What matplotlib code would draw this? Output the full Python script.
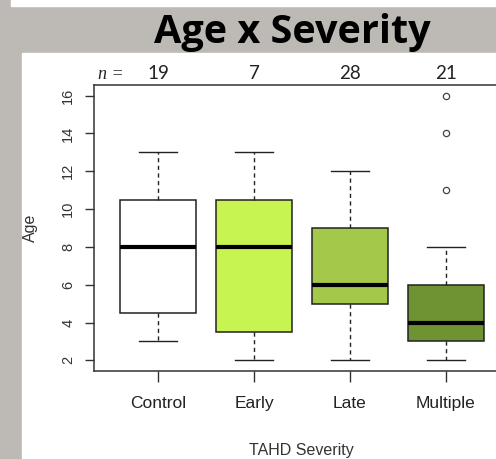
#!/usr/bin/env python3
# Age x Severity boxplot, slide-style
import matplotlib
matplotlib.use("Agg")
import matplotlib.pyplot as plt
from matplotlib.patches import Rectangle

# data
groups = ["Control", "Early", "Late", "Multiple"]
counts = [19, 7, 28, 21]
whis_lo = [3, 2, 2, 2]
q1 = [4.5, 3.5, 5, 3]
medians = [8, 8, 6, 4]
q3 = [10.5, 10.5, 9, 6]
whis_hi = [13, 13, 12, 8]
outliers = [[], [], [], [11, 14, 16]]
box_colors = ["#ffffff", "#c8f451", "#a3c84a", "#6f9333"]

SANS = ["Liberation Sans", "DejaVu Sans"]

W, H = 496, 459
fig = plt.figure(figsize=(W / 100, H / 100), dpi=100)
fig.patch.set_facecolor("#bdbab6")

# white panel + top strip
fig.add_artist(Rectangle((22 / W, 0), 474 / W, (H - 53) / H,
                         transform=fig.transFigure, color="white", zorder=0))
fig.add_artist(Rectangle((11 / W, 1 - 6 / H), 485 / W, 6 / H,
                         transform=fig.transFigure, color="white", zorder=0))

fig.text(292 / W, 1 - 43 / H, "Age x Severity", family=["Open Sans", "Lato"],
         fontweight="bold", fontsize=28.5, ha="center", va="baseline")

ax = fig.add_axes([94 / W, 88 / H, 416 / W, 286 / H])
ax.set_facecolor("none")

stats = []
for i, g in enumerate(groups):
    stats.append(dict(label=g, med=medians[i], q1=q1[i], q3=q3[i],
                      whislo=whis_lo[i], whishi=whis_hi[i], fliers=outliers[i]))

bp = ax.bxp(stats, positions=range(1, len(groups) + 1), widths=0.8,
            patch_artist=True, showfliers=True,
            boxprops=dict(edgecolor="#222222", linewidth=1.1),
            whiskerprops=dict(color="#222222", linestyle=(0, (3, 2.5)), linewidth=1),
            capprops=dict(color="#222222", linewidth=1),
            medianprops=dict(color="black", linewidth=3, solid_capstyle="butt"),
            flierprops=dict(marker="o", markerfacecolor="none",
                            markeredgecolor="#444444", markersize=4.5, markeredgewidth=0.9))
for patch, c in zip(bp["boxes"], box_colors):
    patch.set_facecolor(c)
for cap in bp["caps"]:
    x = cap.get_xdata()
    mid = (x[0] + x[1]) / 2
    cap.set_xdata([mid - 0.2, mid + 0.2])

ax.set_xlim(0.333, 4.667)
ax.set_ylim(1.44, 16.56)

for s in ["left", "top", "bottom", "right"]:
    ax.spines[s].set_color("#333333")
    ax.spines[s].set_linewidth(1.1)

ax.set_yticks(range(2, 17, 2))
ax.set_yticklabels([str(v) for v in range(2, 17, 2)], rotation=90, va="center",
                   family=SANS, fontsize=10.5, color="#333333")
ax.tick_params(axis="y", length=6.5, width=1, color="#333333", pad=7)
ax.set_xticks(range(1, len(groups) + 1))
ax.set_xticklabels(groups, family=SANS, fontsize=12.5, color="#222222")
ax.tick_params(axis="x", length=8, width=1, color="#333333", pad=10)

# n = counts above the box
trans = ax.get_xaxis_transform()
ax.text(0.64, 1.021, "n =", transform=trans, ha="right", va="baseline",
        family=["Liberation Serif"], style="italic", fontsize=13, color="#222222")
for i, n in enumerate(counts):
    ax.text(i + 1, 1.021, str(n), transform=trans, ha="center", va="baseline",
            family=["Lato", "DejaVu Sans"], fontsize=13.5, color="#222222")

fig.text(30 / W, 1 - 228 / H, "Age", rotation=90, ha="center", va="center",
         family=SANS, fontsize=11.5, color="#333333")
fig.text(301 / W, 1 - 450 / H, "TAHD Severity", ha="center", va="center",
         family=SANS, fontsize=11.5, color="#333333")

fig.savefig("out.png", dpi=100, facecolor=fig.get_facecolor())
